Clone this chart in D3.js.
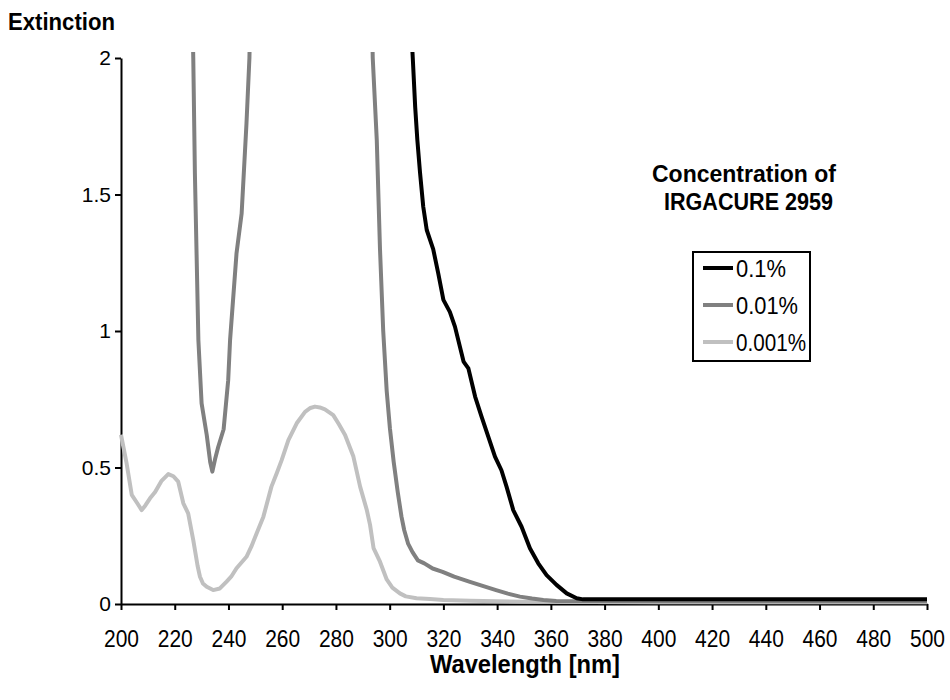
<!DOCTYPE html>
<html>
<head>
<meta charset="utf-8">
<script src="https://cdn.jsdelivr.net/npm/d3@7"></script>
<style>
  body { margin: 0; background: #fff; }
  text { font-family: "Liberation Sans", Arial, sans-serif; fill: #000; }
</style>
</head>
<body>
<script>
// Chart size and plot box
let width = 950;
let height = 700;
let margin = {left: 121, right: 23, top: 58, bottom: 96};

// Axis ticks
var xTicks = [200, 220, 240, 260, 280, 300, 320, 340, 360, 380, 400, 420, 440, 460, 480, 500];
var yTicks = [0, 0.5, 1, 1.5, 2];
var yTickLabels = ['0', '0.5', '1', '1.5', '2'];

// Legend entries
var seriesNames = ['0.1%', '0.01%', '0.001%'];
var seriesColors = ['#000000', '#808080', '#c0c0c0'];

// 0.1% series
var wl1 = [307.5, 308.6, 309.5, 310.3, 311.3, 312.5, 313.8, 316.2, 318.1, 320, 322.4, 324.3, 327.5, 329.3,
           331.8, 334.2, 336.7, 339.2, 341.6, 343.5, 346, 349.1, 352.2, 355.3, 358.4, 362.1, 365.9, 369.6,
           372, 376, 400, 450, 500];
var ext1 = [2.2, 2.0, 1.82, 1.70, 1.58, 1.455, 1.37, 1.30, 1.21, 1.114, 1.07, 1.016, 0.888, 0.863,
            0.76, 0.686, 0.613, 0.54, 0.49, 0.43, 0.344, 0.283, 0.204, 0.149, 0.106, 0.07, 0.039, 0.021,
            0.017, 0.017, 0.017, 0.017, 0.017];

// 0.01% series
var wl2 = [226.5, 226.9, 227.5, 228.8, 230, 231.9, 233.2, 234, 235, 236.2, 238.2, 239.9, 240.6, 243, 244.9,
           246.7, 247.8, 248.2, 293.3, 293.7, 295.2, 296.4, 297.6, 298.9, 300.1, 301.5, 303, 304.4, 305.4,
           306.9, 308.5, 310.5, 312.9, 316, 319.7, 324, 329.6, 334, 339.6, 344, 348.5, 353, 357.2, 362,
           400, 500];
var ext2 = [2.2, 2.0, 1.58, 0.967, 0.735, 0.62, 0.52, 0.485, 0.53, 0.576, 0.64, 0.82, 0.967, 1.285, 1.43,
            1.76, 2.0, 2.2, 2.2, 2.0, 1.70, 1.30, 1.0, 0.78, 0.643, 0.52, 0.41, 0.32, 0.271,
            0.22, 0.19, 0.16, 0.149, 0.13, 0.118, 0.10, 0.082, 0.068, 0.051, 0.038, 0.027, 0.02, 0.015, 0.011,
            0.01, 0.01];

// 0.001% series
var wl3 = [200, 202, 204, 206, 207.7, 209, 210.8, 212.7, 215, 217.6, 219.5, 221.3, 223.2, 225, 226.9,
           228.5, 229.4, 230.5, 231.9, 234.3, 236.8, 239.3, 241, 243, 246.7, 248.5, 250.5, 253, 256, 258,
           259.8, 262.3, 265.4, 268.5, 270.5, 272.2, 274, 275.9, 279, 281, 283.4, 286.5, 289, 291.5, 292.7,
           294, 296.4, 298.9, 301, 303.8, 306, 310, 315, 320, 330, 350, 400, 500];
var ext3 = [0.62, 0.52, 0.40, 0.37, 0.344, 0.36, 0.387, 0.41, 0.45, 0.476, 0.468, 0.448, 0.369, 0.332, 0.234,
            0.14, 0.10, 0.075, 0.063, 0.051, 0.057, 0.082, 0.10, 0.131, 0.173, 0.21, 0.259, 0.32, 0.43, 0.48,
            0.527, 0.60, 0.662, 0.704, 0.718, 0.723, 0.72, 0.713, 0.692, 0.66, 0.619, 0.54, 0.43, 0.344, 0.29,
            0.205, 0.155, 0.09, 0.06, 0.039, 0.028, 0.021, 0.018, 0.015, 0.012, 0.008, 0.006, 0.006];

var seriesWl = [wl1, wl2, wl3];
var seriesExt = [ext1, ext2, ext3];

// Scales
var x = d3.scaleLinear().domain([200, 500]).range([margin.left, width - margin.right]);
var y = d3.scaleLinear().domain([0, 2]).range([height - margin.bottom, margin.top]);

var svg = d3.select('body')
            .append('svg')
            .attr('width', width)
            .attr('height', height);

// Clip so the curves stop just above the top of the axis
svg.append('clipPath').attr('id', 'plot-clip')
  .append('rect')
  .attr('x', margin.left - 4).attr('y', y(2) - 6)
  .attr('width', width - margin.left - margin.right + 8)
  .attr('height', y(0) - y(2) + 10);

// Y axis
var yAxis = svg.append('g')
  .attr('transform', 'translate(' + margin.left + ',0)')
  .call(d3.axisLeft(y).tickValues(yTicks).tickSize(6).tickSizeOuter(0).tickPadding(4)
        .tickFormat(function(d, i) { return yTickLabels[i]; }));
yAxis.select('.domain').attr('stroke-width', 2);
yAxis.selectAll('.tick line').attr('stroke-width', 2);
yAxis.selectAll('.tick text').attr('font-size', 21).attr('font-family', '"Liberation Sans", Arial, sans-serif');

// X axis
var xAxis = svg.append('g')
  .attr('transform', 'translate(0,' + y(0) + ')')
  .call(d3.axisBottom(x).tickValues(xTicks).tickSize(6).tickSizeOuter(0).tickFormat(d3.format('d')));
xAxis.select('.domain').attr('stroke-width', 2);
xAxis.selectAll('.tick line').attr('stroke-width', 2);
xAxis.selectAll('.tick text')
  .attr('font-size', 23)
  .attr('font-family', '"Liberation Sans", Arial, sans-serif')
  .attr('y', 43).attr('dy', null)
  .attr('textLength', 35).attr('lengthAdjust', 'spacingAndGlyphs');

// Curves, lightest first so the black one sits on top
var line = d3.line()
  .x(function(d) { return x(d[0]); })
  .y(function(d) { return y(d[1]); });

var plot = svg.append('g').attr('clip-path', 'url(#plot-clip)');
for (var s = seriesNames.length - 1; s >= 0; s--) {
  var pts = seriesWl[s].map(function(w, i) { return [w, seriesExt[s][i]]; });
  plot.append('path')
    .datum(pts)
    .attr('d', line)
    .attr('fill', 'none')
    .attr('stroke', seriesColors[s])
    .attr('stroke-width', 4)
    .attr('stroke-linejoin', 'round');
}

// Axis titles
svg.append('text').attr('x', 8).attr('y', 30)
  .attr('font-size', 24).attr('font-weight', 'bold')
  .attr('textLength', 107).attr('lengthAdjust', 'spacingAndGlyphs')
  .text('Extinction');

svg.append('text').attr('x', 430).attr('y', 673)
  .attr('font-size', 25).attr('font-weight', 'bold')
  .attr('textLength', 190).attr('lengthAdjust', 'spacingAndGlyphs')
  .text('Wavelength [nm]');

// Legend title
svg.append('text').attr('x', 652).attr('y', 182)
  .attr('font-size', 24).attr('font-weight', 'bold')
  .attr('textLength', 184).attr('lengthAdjust', 'spacingAndGlyphs')
  .text('Concentration of');
svg.append('text').attr('x', 664).attr('y', 210)
  .attr('font-size', 24).attr('font-weight', 'bold')
  .attr('textLength', 169).attr('lengthAdjust', 'spacingAndGlyphs')
  .text('IRGACURE 2959');

// Legend box
var legend = svg.append('g').attr('transform', 'translate(693,252)');
legend.append('rect').attr('width', 117).attr('height', 109)
  .attr('fill', '#fff').attr('stroke', '#000').attr('stroke-width', 2);

var labelLengths = [50, 62, 70];
seriesNames.forEach(function(name, i) {
  var ly = 16 + i * 37;
  legend.append('line')
    .attr('x1', 10).attr('x2', 40).attr('y1', ly).attr('y2', ly)
    .attr('stroke', seriesColors[i]).attr('stroke-width', 4);
  legend.append('text')
    .attr('x', 43).attr('y', ly + 9)
    .attr('font-size', 23)
    .attr('textLength', labelLengths[i]).attr('lengthAdjust', 'spacingAndGlyphs')
    .text(name);
});
</script>
</body>
</html>
